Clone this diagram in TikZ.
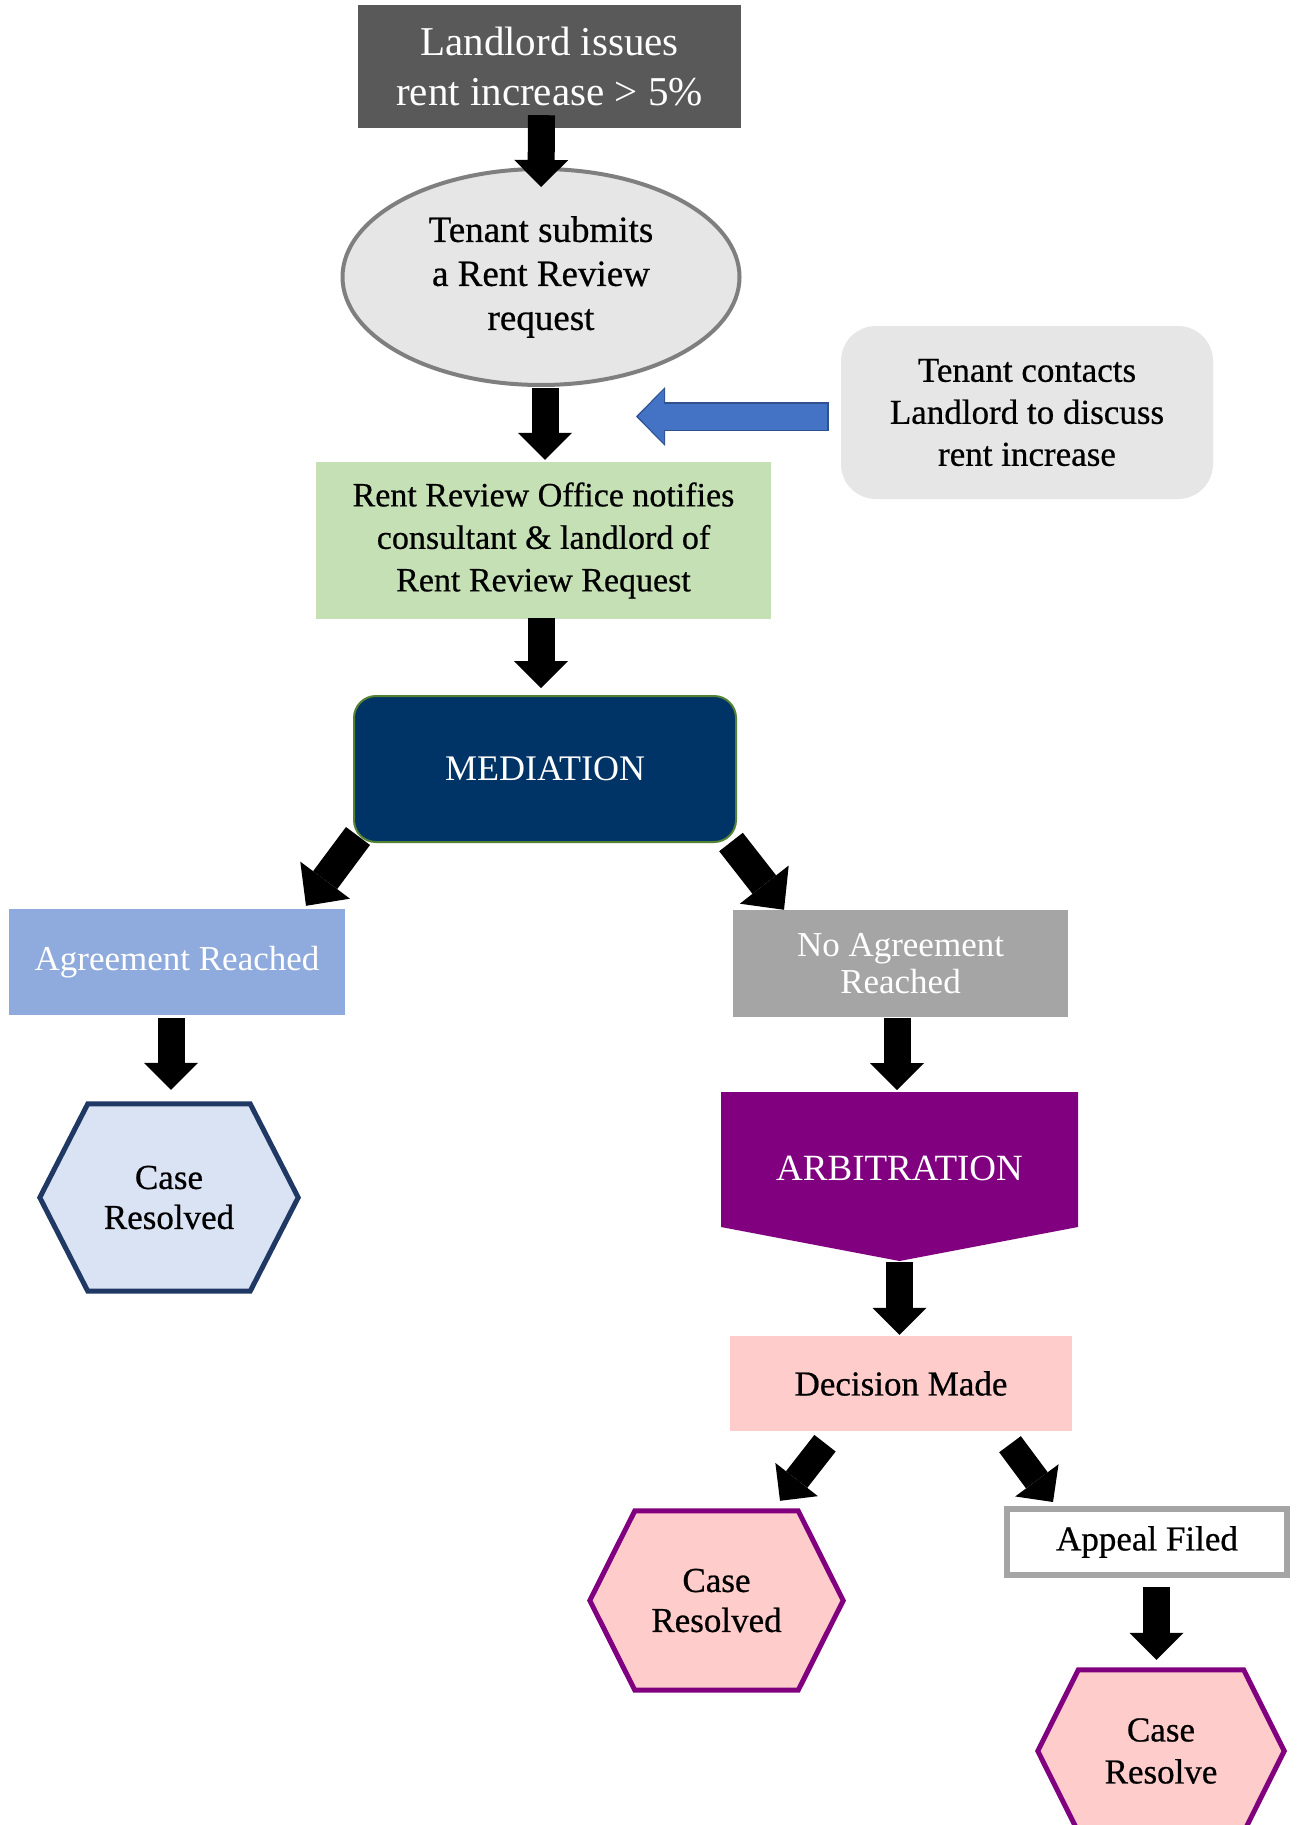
\documentclass[tikz,border=0pt]{standalone}
\usepackage{fontspec}
\setmainfont{Liberation Serif}
\newfontfamily\blkfont{Liberation Serif}[FakeBold=0.6]
\usetikzlibrary{arrows.meta,shapes.geometric,backgrounds}
\definecolor{cLand}{HTML}{595959}
\definecolor{cGrayLine}{HTML}{7F7F7F}
\definecolor{cLight}{HTML}{E7E6E6}
\definecolor{cGreen}{HTML}{C5E0B4}
\definecolor{cNavy}{HTML}{003366}
\definecolor{cMedLine}{HTML}{548235}
\definecolor{cAgr}{HTML}{8FAADC}
\definecolor{cNoAgr}{HTML}{A5A5A5}
\definecolor{cHexBlue}{HTML}{DAE3F3}
\definecolor{cNavyLine}{HTML}{203864}
\definecolor{cPurple}{HTML}{800080}
\definecolor{cPink}{HTML}{FFCCCC}
\definecolor{cBlue}{HTML}{4472C4}
\definecolor{cBlueDark}{HTML}{2F528F}
\newcommand\fsz[2]{\fontsize{#1pt}{#2pt}\selectfont}
\newcommand\bfsz[2]{\blkfont\fontsize{#1pt}{#2pt}\selectfont}
\tikzset{
  box/.style={rectangle, inner sep=0pt, align=center},
  blkarrow/.style={draw=black, line width=27pt, -{Triangle[width=54pt,length=27pt,line width=0pt]}},
  bigarrow/.style={draw=black, line width=30pt, -{Triangle[width=62pt,length=32pt,line width=0pt]}},
  hexline/.style={line width=5pt, line join=miter}
}
\begin{document}
\begin{tikzpicture}[x=1pt,y=-1pt]
\clip (0,0) rectangle (1303,1825);
% nodes
\node[box, fill=cLand, text=white, minimum width=383pt, minimum height=123pt, font=\fsz{41}{50}] (land) at (549.5,66.5) {Landlord issues\\rent increase > 5\%};
\node[ellipse, draw=cGrayLine, line width=4pt, fill=cLight, minimum width=397pt, minimum height=216pt, inner sep=0pt, align=center, font=\bfsz{37}{44}] (ell) at (541,277) {Tenant submits\\a Rent Review\\request};
\node[box, fill=cGreen, minimum width=455pt, minimum height=157pt, font=\bfsz{34}{42.5}] (rro) at (543.5,540.5) {Rent Review Office notifies\\consultant \& landlord of\\Rent Review Request};
\node[box, fill=cLight, rounded corners=35pt, minimum width=372pt, minimum height=173pt, font=\bfsz{35}{42}] (tc) at (1027,412.5) {Tenant contacts\\Landlord to discuss\\rent increase};
\node[box, fill=cNavy, draw=cMedLine, line width=2pt, rounded corners=22pt, text=white, minimum width=382pt, minimum height=146pt, font=\fsz{36}{42}] (med) at (545,769) {MEDIATION};
\node[box, fill=cAgr, text=white, minimum width=336pt, minimum height=106pt, font=\fsz{35}{40}] (agr) at (177,962) {Agreement Reached};
\node[box, fill=cNoAgr, text=white, minimum width=335pt, minimum height=107pt, font=\fsz{35}{37}] (noagr) at (900.5,963.5) {No Agreement\\Reached};
\node[box, minimum width=258pt, minimum height=187pt, font=\bfsz{35}{40}] (hexa) at (169,1197.5) {Case\\Resolved};
\node[box, text=white, minimum width=357pt, minimum height=60pt, font=\fsz{37}{42}] (arb) at (899.5,1168) {ARBITRATION};
\node[box, fill=cPink, minimum width=342pt, minimum height=95pt, font=\bfsz{35}{40}] (dec) at (901,1383.5) {Decision Made};
\node[box, minimum width=253pt, minimum height=179pt, font=\bfsz{35}{40}] (hexb) at (716.5,1600.5) {Case\\Resolved};
\node[box, draw=cNoAgr, line width=6pt, fill=white, minimum width=280pt, minimum height=66pt, font=\bfsz{35}{40}] (app) at (1147,1542) {Appeal Filed};
\node[box, minimum width=246pt, minimum height=162pt, font=\bfsz{35}{42}] (hexc) at (1161,1751) {Case\\Resolve};
\coordinate (btip) at (636,416.5);
% shapes behind text
\begin{scope}[on background layer]
\fill[white] (0,0) rectangle (1303,1825);
\draw[hexline, draw=cNavyLine, fill=cHexBlue] (hexa.west) -- ([xshift=48pt]hexa.north west) -- ([xshift=-48pt]hexa.north east) -- (hexa.east) -- ([xshift=-48pt]hexa.south east) -- ([xshift=48pt]hexa.south west) -- cycle;
\fill[cPurple] ([shift={(-178.5,-76)}]arb.center) -- ([shift={(178.5,-76)}]arb.center) -- ([shift={(178.5,59)}]arb.center) -- ([shift={(0,93)}]arb.center) -- ([shift={(-178.5,59)}]arb.center) -- cycle;
\draw[hexline, draw=cPurple, fill=cPink] (hexb.west) -- ([xshift=45pt]hexb.north west) -- ([xshift=-45pt]hexb.north east) -- (hexb.east) -- ([xshift=-45pt]hexb.south east) -- ([xshift=45pt]hexb.south west) -- cycle;
\draw[hexline, draw=cPurple, fill=cPink] (hexc.west) -- ([xshift=40.5pt]hexc.north west) -- ([xshift=-40.5pt]hexc.north east) -- (hexc.east) -- ([xshift=-40.5pt]hexc.south east) -- ([xshift=40.5pt]hexc.south west) -- cycle;
\end{scope}
% connectors
\draw[blkarrow] ([xshift=-8pt,yshift=13pt]land.south) -- ([yshift=-20pt]ell.north);
\draw[blkarrow] ([xshift=4pt,yshift=-1pt]ell.south) -- ([xshift=1.5pt,yshift=2pt]rro.north);
\draw[blkarrow] ([xshift=-2.5pt,yshift=1pt]rro.south) -- ([xshift=-4pt,yshift=7pt]med.north);
\draw[line width=29pt, draw=cBlueDark, -{Triangle[width=59pt,length=29pt,line width=0pt]}] ([xshift=-12pt,yshift=-4pt]tc.west) -- (btip);
\draw[line width=26pt, draw=cBlue, shorten >=2pt, shorten <=1.5pt, -{Triangle[width=54pt,length=26pt,line width=0pt]}] ([xshift=-12pt,yshift=-4pt]tc.west) -- (btip);
\draw[bigarrow] ([xshift=5pt,yshift=7pt]med.south west) -- ([xshift=129pt,yshift=3pt]agr.north);
\draw[bigarrow] ([xshift=-6pt,yshift=1pt]med.south east) -- ([xshift=-116.5pt]noagr.north);
\draw[blkarrow] ([xshift=-6pt,yshift=-3pt]agr.south) -- ([xshift=2pt,yshift=14pt]hexa.north);
\draw[blkarrow] ([xshift=-3.5pt,yshift=-1pt]noagr.south) -- ([xshift=-2.5pt,yshift=78pt]arb.center);
\draw[blkarrow] ([yshift=-94pt]arb.center) -- ([xshift=-1.5pt,yshift=1pt]dec.north);
\draw[blkarrow] ([xshift=-76pt,yshift=-12pt]dec.south) -- ([xshift=63.5pt,yshift=10pt]hexb.north);
\draw[blkarrow] ([xshift=109pt,yshift=-13pt]dec.south) -- ([xshift=-94pt,yshift=4pt]app.north);
\draw[blkarrow] ([xshift=9.5pt,yshift=-9pt]app.south) -- ([xshift=-4.5pt,yshift=10pt]hexc.north);
\end{tikzpicture}
\end{document}
